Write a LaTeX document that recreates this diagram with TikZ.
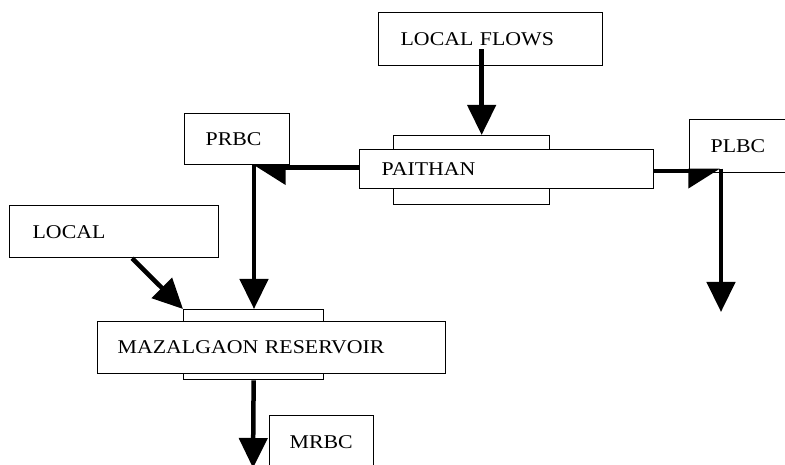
\documentclass[tikz,border=0pt]{standalone}
\usepackage{fontspec}
\setmainfont[FakeStretch=1.12]{Liberation Serif}
\usetikzlibrary{arrows.meta}
\begin{document}
\begin{tikzpicture}[x=1pt,y=-1pt,
  box/.style={draw, line width=1.3pt, fill=white, anchor=north west, align=left, inner ysep=0pt, font=\fontsize{19.5}{20}\selectfont},
  bar/.style={draw, line width=1.3pt, fill=white, anchor=north west, inner sep=0pt},
  flow/.style={line width=4.5pt, -{Triangle[length=30pt,width=28pt]}},
  sideflow/.style={line width=4.5pt, -{Triangle[harpoon,length=28pt,width=34pt]}},
  sideflowswap/.style={line width=4.5pt, -{Triangle[harpoon,swap,length=28pt,width=34pt]}}]
\clip (0,0) rectangle (785,465);
\fill[white] (0,0) rectangle (785,465);
\node[box, minimum width=224pt, minimum height=53pt, inner xsep=22pt, text width=180pt] (lf) at (378,12) {LOCAL FLOWS};
\node[bar, minimum width=156pt, minimum height=14pt] (ptop) at (393,135) {};
\node[bar, minimum width=156pt, minimum height=16pt] (pbot) at (393,188) {};
\node[box, minimum width=294pt, minimum height=39pt, inner xsep=22pt, text width=250pt] (pm) at (359,149) {PAITHAN};
\node[box, minimum width=105pt, minimum height=51pt, inner xsep=21pt, text width=63pt] (prbc) at (184,113) {PRBC};
\node[box, minimum width=101pt, minimum height=53pt, inner xsep=21pt, text width=59pt] (plbc) at (689,119) {PLBC};
\node[box, minimum width=209pt, minimum height=52pt, inner xsep=23pt, text width=163pt] (local) at (9,205) {LOCAL};
\node[bar, minimum width=140pt, minimum height=12pt] (mtop) at (183,309) {};
\node[bar, minimum width=140pt, minimum height=6pt] (mbot) at (183,373) {};
\node[box, minimum width=348pt, minimum height=52pt, inner xsep=20pt, text width=308pt] (maz) at (97,321) {MAZALGAON RESERVOIR};
\node[box, minimum width=104pt, minimum height=52pt, inner xsep=20pt, text width=64pt] (mrbc) at (269,415) {MRBC};
\coordinate (cl) at (254,167.5);
\coordinate (cr) at (720,171);
\coordinate (cd) at (721,312);
\coordinate (ce) at (253,468);
\draw[flow] ([xshift=-9pt,yshift=17pt]lf.south) -- ([xshift=10pt]ptop.north);
\draw[sideflow] (pm.west |- cl) -- (cl);
\draw[flow] ([yshift=2.25pt]cl) -- (cl |- mtop.north);
\draw[sideflowswap] (pm.east |- cr) -- (cr);
\draw[flow] ([yshift=2.25pt]cr -| cd) -- (cd);
\draw[flow] ([xshift=18pt]local.south) -- (mtop.north west);
\draw[flow] (mbot.south) -- (ce);
\end{tikzpicture}
\end{document}
